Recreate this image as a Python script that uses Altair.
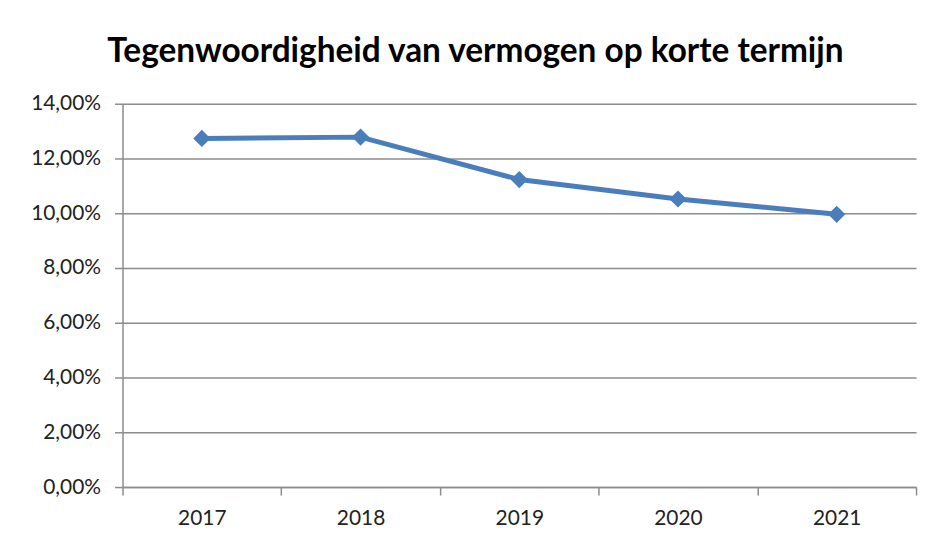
import altair as alt
import pandas as pd

years = ["2017", "2018", "2019", "2020", "2021"]
values = [0.1273, 0.1278, 0.1123, 0.1052, 0.0996]
y_ticks = [0.0, 0.02, 0.04, 0.06, 0.08, 0.10, 0.12, 0.14]

df = pd.DataFrame({"jaar": years, "waarde": values})

FONT = "Lato"
GRID = "#8c8c8c"
BLUE = "#4a7ebb"

base = alt.Chart(df).encode(
    x=alt.X(
        "jaar:O",
        sort=years,
        scale=alt.Scale(paddingInner=0, paddingOuter=0),
        axis=alt.Axis(
            title=None,
            labelAngle=0,
            tickBand="extent",
            tickSize=8,
            tickColor=GRID,
            tickWidth=1.5,
            domainColor=GRID,
            domainWidth=1.5,
            labelFont=FONT,
            labelFontSize=21,
            labelColor="#222222",
            labelPadding=13,
            grid=False,
        ),
    ),
    y=alt.Y(
        "waarde:Q",
        scale=alt.Scale(domain=[0, 0.14], nice=False),
        axis=alt.Axis(
            title=None,
            values=y_ticks,
            labelExpr="replace(format(datum.value, '.2%'), '.', ',')",
            tickSize=8,
            tickColor=GRID,
            tickWidth=1.5,
            domainColor=GRID,
            domainWidth=1.5,
            gridColor=GRID,
            gridWidth=1.5,
            gridOpacity=1,
            labelFont=FONT,
            labelFontSize=21,
            labelColor="#222222",
            labelPadding=14,
        ),
    ),
)

line = base.mark_line(color=BLUE, strokeWidth=5)
points = base.mark_point(shape="diamond", filled=True, color=BLUE, size=300, opacity=1)

chart = (
    alt.layer(line, points)
    .properties(
        width=797,
        height=385,
        padding={"left": 115, "top": 95, "right": 10, "bottom": 40},
        autosize=alt.AutoSizeParams(type="none"),
        title=alt.TitleParams(
            "Tegenwoordigheid van vermogen op korte termijn",
            font=FONT,
            fontSize=33.5,
            fontWeight="bold",
            color="#000000",
            anchor="middle",
            dx=-44,
            offset=23,
        ),
    )
    .configure_view(stroke=None)
)

chart.save("out.html", embed_options={"renderer": "svg", "actions": False})
